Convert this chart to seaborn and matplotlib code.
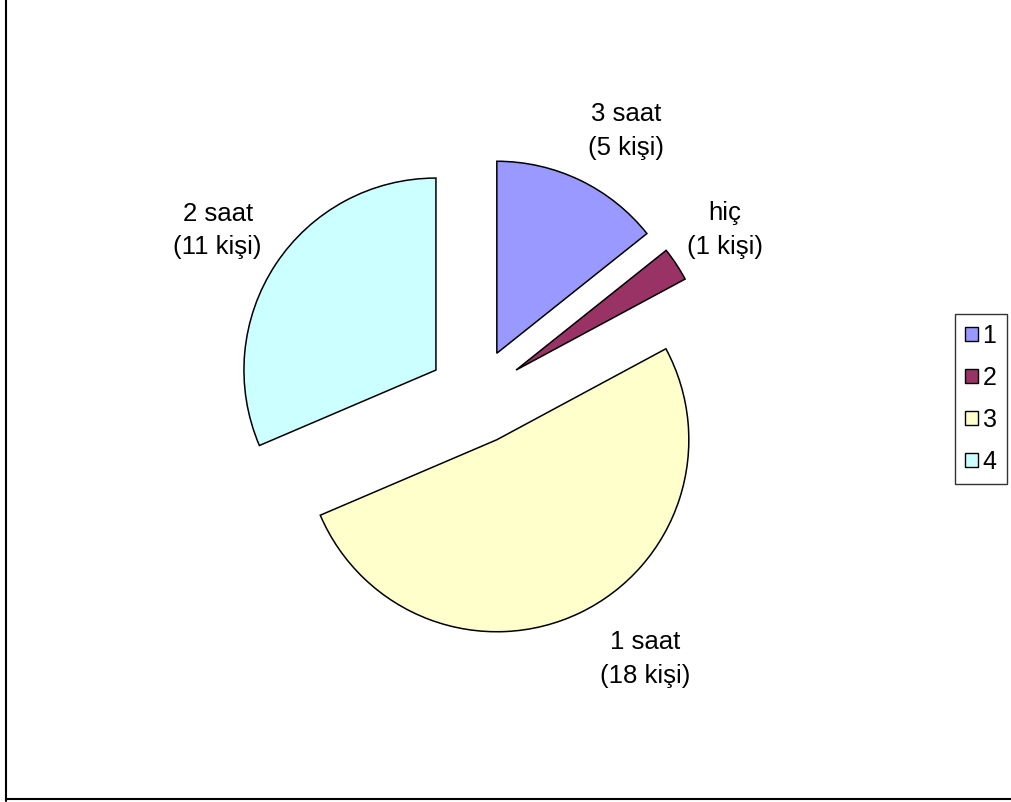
import numpy as np
import matplotlib
matplotlib.use("Agg")
import matplotlib.pyplot as plt
import seaborn as sns
from matplotlib.lines import Line2D

legend_labels = ["1", "2", "3", "4"]
counts = [5, 1, 18, 11]
slice_labels = ["3 saat\n(5 kişi)", "hiç\n(1 kişi)", "1 saat\n(18 kişi)", "2 saat\n(11 kişi)"]
colors = ["#9999FF", "#993366", "#FFFFCC", "#CCFFFF"]
explode = [0.25, 0.25, 0.25, 0.25]

# small label nudges (degrees / radius units) to mimic the original placement
label_shift = [-4.5, 0.4, 8.4, 0.8]
label_dist = [1.34, 1.31, 1.38, 1.35]

sns.set_style("white")
plt.rcParams['font.family'] = ['Liberation Sans', 'DejaVu Sans']
plt.rcParams['text.color'] = 'black'

W, H = 1011, 802
fig = plt.figure(figsize=(W / 100, H / 100), dpi=100)

# pie centre around (476, 396) px, radius ~192 px
cx, cy, r = 476, 396.5, 192
ax = fig.add_axes([(cx - 2 * r) / W, (H - cy - 2 * r) / H, 4 * r / W, 4 * r / H])

wedges, texts = ax.pie(
    counts,
    labels=slice_labels,
    colors=colors,
    explode=explode,
    startangle=90,
    counterclock=False,
    labeldistance=1.35,
    wedgeprops=dict(edgecolor="black", linewidth=1.1),
    textprops=dict(ha="center", va="center", fontsize=18.5, linespacing=1.5, color="black"),
)
for w, t, sh, d in zip(wedges, texts, label_shift, label_dist):
    mid = np.deg2rad((w.theta1 + w.theta2) / 2 + sh)
    x0, y0 = w.center
    t.set_position((x0 + d * w.r * np.cos(mid), y0 + d * w.r * np.sin(mid)))

ax.set_xlim(-2, 2)
ax.set_ylim(-2, 2)
ax.set_aspect("equal")
ax.axis("off")

leg = fig.legend(
    wedges, legend_labels,
    loc="center left",
    bbox_to_anchor=(955 / W, (H - 399) / H),
    fontsize=18,
    labelcolor="black",
    frameon=True,
    fancybox=False,
    handlelength=0.5,
    handleheight=0.5,
    handletextpad=0.2,
    labelspacing=0.72,
    borderpad=0.4,
    borderaxespad=0,
)
leg.get_frame().set_edgecolor("black")
leg.get_frame().set_linewidth(1.0)
for h in leg.legend_handles:
    h.set_linewidth(1.0)

# outer chart frame (left and bottom visible)
fig.add_artist(Line2D([6 / W, 6 / W], [1 / H, 1.0], transform=fig.transFigure, color="black", linewidth=1.5))
fig.add_artist(Line2D([6 / W, 1.0], [3 / H, 3 / H], transform=fig.transFigure, color="black", linewidth=1.5))

fig.savefig("out.png", dpi=100)
